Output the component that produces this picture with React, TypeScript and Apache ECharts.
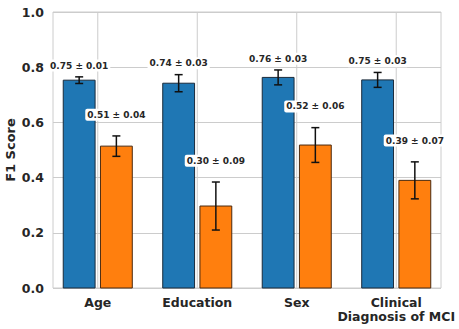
import React, { useEffect, useRef } from "react";
import * as echarts from "echarts";

const categories = ["Age", "Education", "Sex", "Clinical\nDiagnosis of MCI"];
const categoryPositions = [0, 1, 2, 3];
const blueMeans = [0.753, 0.742, 0.763, 0.754];
const blueStds = [0.012, 0.031, 0.027, 0.027];
const orangeMeans = [0.514, 0.297, 0.518, 0.39];
const orangeStds = [0.037, 0.087, 0.063, 0.067];

const BLUE = "#1f77b4";
const ORANGE = "#ff7f0e";
const TEXT = "#262626";
const GRID = "#cccccc";
const FONT = '"DejaVu Sans", sans-serif';
const BAR_W = 0.32;
const OFFSET = 0.187;

function makeData(means: number[], stds: number[]) {
  return categoryPositions.map((p, i) => [p, means[i], stds[i]]);
}

function vlineRender(_params: any, api: any) {
  const x = api.value(0);
  const a = api.coord([x, 0]);
  const b = api.coord([x, 1]);
  return {
    type: "line",
    shape: { x1: a[0], y1: a[1], x2: b[0], y2: b[1] },
    style: { stroke: GRID, lineWidth: 1 },
  };
}

function barRender(offset: number, color: string, edge: string) {
  return (_params: any, api: any) => {
    const x = api.value(0) + offset;
    const v = api.value(1);
    const p1 = api.coord([x - BAR_W / 2, v]);
    const p2 = api.coord([x + BAR_W / 2, 0]);
    return {
      type: "rect",
      shape: { x: p1[0], y: p1[1], width: p2[0] - p1[0], height: p2[1] - p1[1] },
      style: { fill: color, stroke: edge, lineWidth: 1 },
    };
  };
}

function errRender(offset: number) {
  return (_params: any, api: any) => {
    const x = api.value(0) + offset;
    const m = api.value(1);
    const s = api.value(2);
    const top = api.coord([x, m + s]);
    const bot = api.coord([x, m - s]);
    const cx = top[0];
    const cap = 4;
    const st = { stroke: "#111", lineWidth: 1.5 };
    return {
      type: "group",
      children: [
        { type: "line", shape: { x1: cx, y1: top[1], x2: cx, y2: bot[1] }, style: st },
        { type: "line", shape: { x1: cx - cap, y1: top[1], x2: cx + cap, y2: top[1] }, style: st },
        { type: "line", shape: { x1: cx - cap, y1: bot[1], x2: cx + cap, y2: bot[1] }, style: st },
      ],
    };
  };
}

function labelRender(offset: number, lift: number) {
  return (_params: any, api: any) => {
    const x = api.value(0) + offset;
    const m = api.value(1);
    const s = api.value(2);
    const p = api.coord([x, m + s + lift]);
    return {
      type: "text",
      x: p[0],
      y: p[1],
      style: {
        text: `${m.toFixed(2)} ± ${s.toFixed(2)}`,
        fill: TEXT,
        font: `bold 9px ${FONT}`,
        align: "center",
        verticalAlign: "middle",
        backgroundColor: "#ffffff",
        padding: [2, 2, 1, 2],
        borderRadius: 2,
      },
    };
  };
}

export default function App() {
  const ref = useRef<HTMLDivElement>(null);
  useEffect(() => {
    if (!ref.current) return;
    const chart = echarts.init(ref.current, null, { renderer: "svg" });
    const blueData = makeData(blueMeans, blueStds);
    const orangeData = makeData(orangeMeans, orangeStds);
    chart.setOption({
      animation: false,
      backgroundColor: "#ffffff",
      grid: {
        left: 53,
        right: 18,
        top: 12,
        bottom: 41,
        show: true,
        borderColor: GRID,
        borderWidth: 1,
        backgroundColor: "transparent",
        containLabel: false,
        outerBoundsMode: "none",
      },
      xAxis: {
        type: "value",
        min: -0.45,
        max: 3.45,
        axisLine: { show: false },
        axisTick: { show: false, customValues: categoryPositions },
        axisLabel: {
          customValues: categoryPositions,
          formatter: (v: number) => categories[Math.round(v)],
          color: TEXT,
          fontWeight: "bold",
          fontSize: 12.5,
          fontFamily: FONT,
          margin: 7,
          lineHeight: 14,
          align: "center",
        },
        splitLine: { show: false },
      },
      yAxis: {
        type: "value",
        min: 0,
        max: 1,
        interval: 0.2,
        name: "F1 Score",
        nameLocation: "middle",
        nameGap: 36,
        nameMoveOverlap: false,
        nameTextStyle: { color: TEXT, fontWeight: "bold", fontSize: 13, fontFamily: FONT },
        axisLine: { show: false },
        axisTick: { show: false },
        axisLabel: {
          formatter: (v: number) => v.toFixed(1),
          color: TEXT,
          fontWeight: "bold",
          fontSize: 12.5,
          fontFamily: FONT,
          margin: 9,
        },
        splitLine: { show: true, lineStyle: { color: GRID, width: 1 } },
      },
      series: [
        { type: "custom", z: 1, data: categoryPositions.map((p) => [p]), encode: { x: 0 }, renderItem: vlineRender },
        { type: "custom", z: 2, data: blueData, encode: { x: 0, y: 1 }, renderItem: barRender(-OFFSET, BLUE, "#1a2a3a") },
        { type: "custom", z: 2, data: orangeData, encode: { x: 0, y: 1 }, renderItem: barRender(OFFSET, ORANGE, "#4a2a10") },
        { type: "custom", z: 3, data: blueData, encode: { x: 0, y: 1 }, renderItem: errRender(-OFFSET) },
        { type: "custom", z: 3, data: orangeData, encode: { x: 0, y: 1 }, renderItem: errRender(OFFSET) },
        { type: "custom", z: 4, data: blueData, encode: { x: 0, y: 1 }, renderItem: labelRender(-OFFSET, 0.041) },
        { type: "custom", z: 4, data: orangeData, encode: { x: 0, y: 1 }, renderItem: labelRender(OFFSET, 0.077) },
      ],
    });
    return () => chart.dispose();
  }, []);
  return (
    <div
      ref={ref}
      style={{ position: "fixed", left: 0, top: 0, width: 459, height: 329 }}
    />
  );
}
